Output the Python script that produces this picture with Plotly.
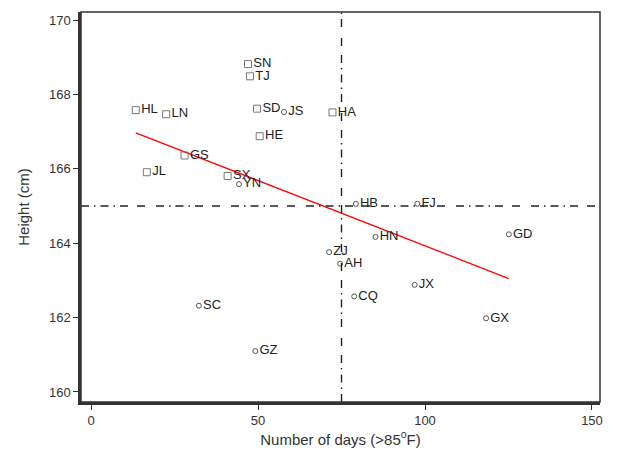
import plotly.graph_objects as go

# squares group
sq_labels = ["SN", "TJ", "HL", "LN", "SD", "HA", "HE", "GS", "JL", "SX"]
sq_days = [47.0, 47.6, 13.4, 22.5, 49.7, 72.3, 50.5, 28.0, 16.7, 40.9]
sq_height = [168.82, 168.49, 167.58, 167.47, 167.62, 167.52, 166.88, 166.36, 165.91, 165.81]

# circles group
ci_labels = ["JS", "YN", "HB", "FJ", "HN", "GD", "ZJ", "AH", "JX", "CQ", "GX", "SC", "GZ"]
ci_days = [57.8, 44.3, 79.3, 97.7, 85.2, 125.1, 71.3, 74.6, 96.9, 78.8, 118.3, 32.3, 49.2]
ci_height = [167.53, 165.59, 165.06, 165.06, 164.17, 164.24, 163.76, 163.45, 162.88, 162.57, 161.98, 162.32, 161.10]

# fitted line endpoints
fit_days = [13.4, 125.1]
fit_height = [166.97, 163.05]

# reference lines
ref_days = 75
ref_height = 165

x_ticks = [0, 50, 100, 150]
y_ticks = [160, 162, 164, 166, 168, 170]

font_family = "Liberation Sans, Arial, sans-serif"
label_color = "#222222"
dash_pattern = "8px,5px,1.5px,5px,8px,5px,1.5px,5px,8px,9px,8px,11px"

fig = go.Figure()
fig.add_trace(go.Scatter(
    x=fit_days, y=fit_height, mode="lines",
    line=dict(color="#ff0000", width=1.3), showlegend=False, hoverinfo="skip"))
fig.add_trace(go.Scatter(
    x=sq_days, y=sq_height, mode="markers+text", text=sq_labels,
    textposition="middle right",
    textfont=dict(family=font_family, size=13, color=label_color),
    marker=dict(symbol="square-open", size=7, color="#777777", line=dict(width=1)),
    showlegend=False))
fig.add_trace(go.Scatter(
    x=ci_days, y=ci_height, mode="markers+text", text=ci_labels,
    textposition="middle right",
    textfont=dict(family=font_family, size=13, color=label_color),
    marker=dict(symbol="circle-open", size=5, color="#555555", line=dict(width=1)),
    showlegend=False))

fig.add_shape(type="line", xref="x", yref="paper", x0=ref_days, x1=ref_days, y0=0, y1=1,
              line=dict(color="#222222", width=1.4, dash=dash_pattern))
fig.add_shape(type="line", xref="paper", yref="y", x0=0, x1=1, y0=ref_height, y1=ref_height,
              line=dict(color="#222222", width=1.4, dash=dash_pattern))
fig.add_shape(type="rect", xref="paper", yref="paper", x0=0, x1=1, y0=0, y1=1,
              line=dict(color="#333333", width=1.5))

fig.update_layout(
    width=622, height=458,
    margin=dict(l=81, r=22, t=12, b=56),
    paper_bgcolor="white", plot_bgcolor="white",
    font=dict(family=font_family, color="#333333"),
    xaxis=dict(range=[-3, 152.4], tickvals=x_ticks, ticks="outside", ticklen=5,
               tickwidth=1.2, tickcolor="#333333", showgrid=False, zeroline=False,
               showline=True, linecolor="#333333", linewidth=2.5,
               tickfont=dict(size=13, color="#333333"),
               title=dict(text="Number of days (>85<sup>o</sup>F)", font=dict(size=15, color="#333333"),
                          standoff=4)),
    yaxis=dict(range=[159.73, 170.22], tickvals=y_ticks, ticks="outside", ticklen=5,
               tickwidth=1.2, tickcolor="#333333", showgrid=False, zeroline=False,
               showline=True, linecolor="#333333", linewidth=2.5,
               tickfont=dict(size=13, color="#333333"),
               title=dict(text="Height (cm)", font=dict(size=15, color="#333333"), standoff=16)),
)

fig.write_html("out.html")
